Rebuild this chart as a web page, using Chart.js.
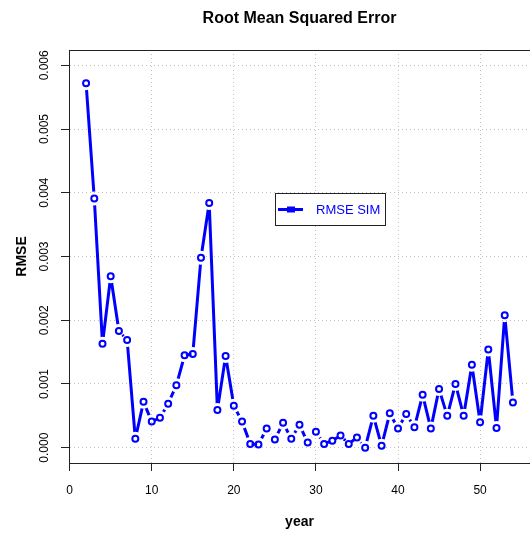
<!DOCTYPE html>
<html>
<head>
<meta charset="utf-8">
<script src="https://cdn.jsdelivr.net/npm/chart.js@4.4.0/dist/chart.umd.min.js"></script>
<style>
    body { margin: 0; background: #fff; }
    canvas { display: block; }
</style>
</head>
<body>
<canvas id="rmseChart" width="530" height="535"></canvas>
<script>
// data
const years = [2, 3, 4, 5, 6, 7, 8, 9, 10, 11, 12, 13, 14, 15, 16, 17, 18, 19, 20, 21,
    22, 23, 24, 25, 26, 27, 28, 29, 30, 31, 32, 33, 34, 35, 36, 37, 38, 39, 40, 41,
    42, 43, 44, 45, 46, 47, 48, 49, 50, 51, 52, 53, 54];
const rmseSim = [0.00572, 0.00391, 0.00163, 0.00269, 0.00183, 0.00169, 0.00014, 0.00072, 0.00041, 0.00047,
    0.00069, 0.00098, 0.00145, 0.00147, 0.00298, 0.00384, 0.00059, 0.00144, 0.00066, 0.00041,
    0.00006, 0.00005, 0.00030, 0.00013, 0.00039, 0.00014, 0.00036, 0.00008, 0.00025, 0.00006,
    0.00011, 0.00019, 0.00006, 0.00016, 0.00000, 0.00050, 0.00003, 0.00054, 0.00030, 0.00053,
    0.00032, 0.00083, 0.00030, 0.00092, 0.00050, 0.00100, 0.00050, 0.00130, 0.00040, 0.00154,
    0.00031, 0.00208, 0.00071];
const xTicks = [0, 10, 20, 30, 40, 50];
const yTicks = [0, 0.001, 0.002, 0.003, 0.004, 0.005, 0.006];

const FONT = '"Liberation Sans", Arial, sans-serif';
const points = years.map((y, i) => ({ x: y, y: rmseSim[i] }));

// R style "type = b": cut the line around each point
const gapPlugin = {
    id: 'gap',
    beforeDatasetDraw(chart, args) {
        if (args.index !== 0) return;
        const ctx = chart.ctx;
        ctx.save();
        ctx.beginPath();
        ctx.rect(0, 0, chart.width, chart.height);
        chart.getDatasetMeta(1).data.forEach(pt => {
            ctx.moveTo(pt.x + 7, pt.y);
            ctx.arc(pt.x, pt.y, 7, 0, Math.PI * 2);
        });
        ctx.clip('evenodd');
    },
    afterDatasetDraw(chart, args) {
        if (args.index !== 0) return;
        chart.ctx.restore();
    }
};

// box, rotated y labels and legend
const decorPlugin = {
    id: 'decor',
    afterDraw(chart) {
        const ctx = chart.ctx;
        const area = chart.chartArea;
        const yScale = chart.scales.y;
        ctx.save();
        ctx.strokeStyle = '#222';
        ctx.lineWidth = 1;
        ctx.strokeRect(area.left + 0.5, area.top + 0.5, area.right - area.left, area.bottom - area.top);

        ctx.fillStyle = '#000';
        ctx.font = '12px ' + FONT;
        ctx.textAlign = 'center';
        ctx.textBaseline = 'middle';
        yScale.ticks.forEach(t => {
            const py = yScale.getPixelForValue(t.value);
            ctx.save();
            ctx.translate(45, py);
            ctx.rotate(-Math.PI / 2);
            ctx.fillText(t.value.toFixed(3), 0, 0);
            ctx.restore();
        });

        // legend
        ctx.fillStyle = '#fff';
        ctx.fillRect(275.5, 193.5, 110, 32);
        ctx.strokeStyle = '#222';
        ctx.strokeRect(275.5, 193.5, 110, 32);
        ctx.strokeStyle = 'blue';
        ctx.lineWidth = 3;
        ctx.beginPath();
        ctx.moveTo(278, 209.5);
        ctx.lineTo(303, 209.5);
        ctx.stroke();
        ctx.fillStyle = 'blue';
        ctx.fillRect(287, 206.5, 8, 6);
        ctx.font = '13px ' + FONT;
        ctx.textAlign = 'left';
        ctx.fillText('RMSE SIM', 316, 210);
        ctx.restore();
    }
};

new Chart(document.getElementById('rmseChart'), {
    type: 'line',
    data: {
        datasets: [{
            label: 'RMSE SIM',
            data: points,
            borderColor: 'blue',
            borderWidth: 3,
            pointRadius: 0,
            tension: 0,
            borderCapStyle: 'round',
            borderJoinStyle: 'round'
        }, {
            label: 'points',
            data: points,
            showLine: false,
            pointRadius: 3,
            pointBorderWidth: 2,
            pointBorderColor: 'blue',
            pointBackgroundColor: 'transparent'
        }]
    },
    options: {
        responsive: false,
        animation: false,
        events: [],
        layout: { padding: 0, autoPadding: false },
        plugins: {
            legend: { display: false },
            tooltip: { enabled: false },
            title: {
                display: true,
                fullSize: false,
                text: 'Root Mean Squared Error',
                color: '#000',
                font: { family: FONT, size: 16, weight: 'bold' },
                padding: { top: 9, bottom: 21.8 }
            }
        },
        scales: {
            x: {
                type: 'linear',
                min: -0.08,
                max: 56.08,
                afterBuildTicks: scale => { scale.ticks = xTicks.map(v => ({ value: v })); },
                afterFit: scale => { scale.height = 72; },
                ticks: {
                    color: '#000',
                    font: { family: FONT, size: 12 },
                    padding: 12,
                    maxRotation: 0
                },
                grid: {
                    color: '#c0c0c0',
                    drawTicks: true,
                    tickLength: 8,
                    tickColor: '#222',
                    tickBorderDash: [0, 0]
                },
                border: { display: true, color: '#222', dash: [1, 3] },
                title: {
                    display: true,
                    text: 'year',
                    color: '#000',
                    font: { family: FONT, size: 14, weight: 'bold' },
                    padding: { top: 0, bottom: 4 }
                }
            },
            y: {
                type: 'linear',
                min: -0.00024,
                max: 0.00624,
                afterBuildTicks: scale => { scale.ticks = yTicks.map(v => ({ value: v })); },
                afterFit: scale => { scale.width = 69; },
                ticks: { display: false },
                grid: {
                    color: '#c0c0c0',
                    drawTicks: true,
                    tickLength: 8,
                    tickColor: '#222',
                    tickBorderDash: [0, 0]
                },
                border: { display: true, color: '#222', dash: [1, 3] },
                title: {
                    display: true,
                    text: 'RMSE',
                    color: '#000',
                    font: { family: FONT, size: 14, weight: 'bold' },
                    padding: { top: 14, bottom: 0 }
                }
            }
        }
    },
    plugins: [gapPlugin, decorPlugin]
});
</script>
</body>
</html>
